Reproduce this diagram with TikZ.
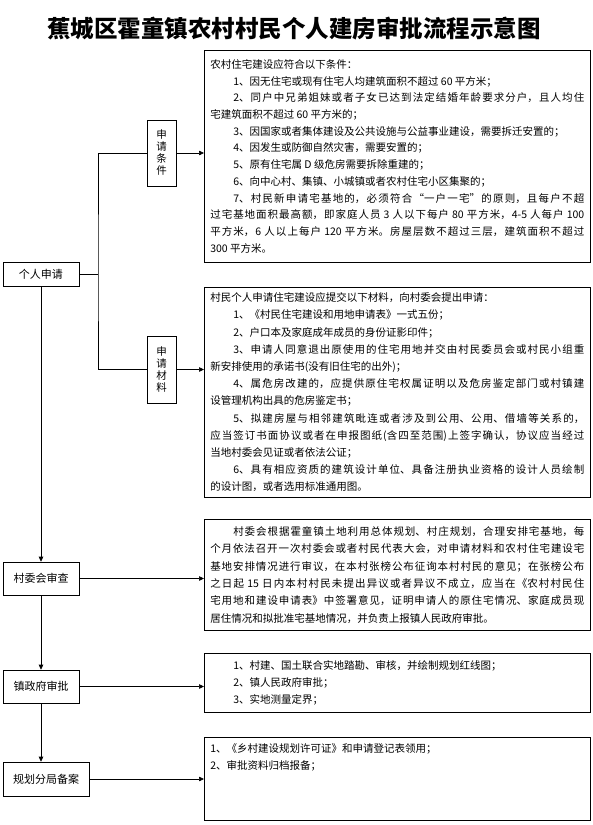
\documentclass[tikz,border=0pt]{standalone}
\usepackage{fontspec}
\setmainfont{Noto Sans CJK SC}
\XeTeXlinebreaklocale "zh"
\XeTeXlinebreakskip=0pt plus 1.5pt
\usetikzlibrary{arrows.meta}
\newcommand{\ind}{\hspace*{23pt}}

\begin{document}
\begin{tikzpicture}[x=1pt,y=-1pt]
        \tikzstyle{every node}+=[inner sep=0pt]
        \tikzstyle{stage}=[draw, line width=0.6pt, font=\fontsize{11}{13}\selectfont]
        \tikzstyle{tall}=[draw, line width=0.6pt, align=center, minimum width=29pt, minimum height=66pt, font=\fontsize{10.5}{12}\selectfont]
        \tikzstyle{detail}=[draw, line width=0.6pt, anchor=north west, text width=374pt, inner xsep=6pt, align=justify, font=\fontsize{10.5}{16.7}\selectfont]
        \tikzstyle{link}=[line width=0.6pt]
        \tikzstyle{flow}=[line width=0.6pt, -{Triangle[length=5pt,width=4.5pt]}]
        \useasboundingbox (0,0) rectangle (593,825);
        % title
        \node[font=\fontsize{23.5}{26}\selectfont\bfseries] (title) at (294,29) {蕉城区霍童镇农村村民个人建房审批流程示意图};
        % left column
        \node[stage, minimum width=76pt, minimum height=24pt] (apply) at (41,274) {个人申请};
        \node[tall] (req) at (161.5,153) {申\\请\\条\\件};
        \node[tall, minimum height=67pt] (mats) at (161.5,369.5) {申\\请\\材\\料};
        \node[stage, minimum width=76pt, minimum height=33pt] (review) at (41,578.5) {村委会审查};
        \node[stage, minimum width=76pt, minimum height=33pt] (town) at (41,686.5) {镇政府审批};
        \node[stage, minimum width=86pt, minimum height=34pt] (plan) at (46,779) {规划分局备案};
        \coordinate (fork) at (98,274);
        % right column
        \node[detail, minimum height=212pt] (condbox) at (204,50) {农村住宅建设应符合以下条件：\par
        \ind 1、因无住宅或现有住宅人均建筑面积不超过 60 平方米；\par
        \ind 2、同户中兄弟姐妹或者子女已达到法定结婚年龄要求分户，且人均住\linebreak 宅建筑面积不超过 60 平方米的；\par
        \ind 3、因国家或者集体建设及公共设施与公益事业建设，需要拆迁安置的；\par
        \ind 4、因发生或防御自然灾害，需要安置的；\par
        \ind 5、原有住宅属 D 级危房需要拆除重建的；\par
        \ind 6、向中心村、集镇、小城镇或者农村住宅小区集聚的；\par
        \ind 7、村民新申请宅基地的，必须符合“一户一宅”的原则，且每户不超\linebreak 过宅基地面积最高额，即家庭人员 3 人以下每户 80 平方米，4-5 人每户 100\linebreak 平方米，6 人以上每户 120 平方米。房屋层数不超过三层，建筑面积不超过\linebreak 300 平方米。};
        \node[detail, minimum height=210pt, font=\fontsize{10.5}{17.2}\selectfont] (matbox) at (204,287) {村民个人申请住宅建设应提交以下材料，向村委会提出申请：\par
        \ind 1、《村民住宅建设和用地申请表》一式五份；\par
        \ind 2、户口本及家庭成年成员的身份证影印件；\par
        \ind 3、申请人同意退出原使用的住宅用地并交由村民委员会或村民小组重\linebreak 新安排使用的承诺书(没有旧住宅的出外)；\par
        \ind 4、属危房改建的，应提供原住宅权属证明以及危房鉴定部门或村镇建\linebreak 设管理机构出具的危房鉴定书；\par
        \ind 5、拟建房屋与相邻建筑毗连或者涉及到公用、公用、借墙等关系的，\linebreak 应当签订书面协议或者在申报图纸(含四至范围)上签字确认，协议应当经过\linebreak 当地村委会见证或者依法公证；\par
        \ind 6、具有相应资质的建筑设计单位、具备注册执业资格的设计人员绘制\linebreak 的设计图，或者选用标准通用图。};
        \node[detail, minimum height=111pt, font=\fontsize{10.5}{17.4}\selectfont] (reviewbox) at (204,519) {\ind 村委会根据霍童镇土地利用总体规划、村庄规划，合理安排宅基地，每\linebreak 个月依法召开一次村委会或者村民代表大会，对申请材料和农村住宅建设宅\linebreak 基地安排情况进行审议，在本村张榜公布征询本村村民的意见；在张榜公布\linebreak 之日起 15 日内本村村民未提出异议或者异议不成立，应当在《农村村民住\linebreak 宅用地和建设申请表》中签署意见，证明申请人的原住宅情况、家庭成员现\linebreak 居住情况和拟批准宅基地情况，并负责上报镇人民政府审批。};
        \node[detail, minimum height=59pt, font=\fontsize{10.5}{17}\selectfont] (townbox) at (204,653) {\ind 1、村建、国土联合实地踏勘、审核，并绘制规划红线图；\par
        \ind 2、镇人民政府审批；\par
        \ind 3、实地测量定界；};
        \node[detail, minimum height=83pt, font=\fontsize{10.5}{17}\selectfont] (planbox) at (204,737) {\parbox[c][71pt][t]{\linewidth}{1、《乡村建设规划许可证》和申请登记表领用；\par
        2、审批资料归档报备；}};
        % connectors
        \draw[link] (apply) -- (fork);
        \draw[link] (req.west) -| (fork) |- (mats.west);
        \draw[flow] (req) -- (req -| condbox.west);
        \draw[flow] (mats) -- (mats -| matbox.west);
        \draw[flow] (apply) -- (review);
        \draw[flow] (review) -- (review -| reviewbox.west);
        \draw[flow] (review) -- (town);
        \draw[flow] (town) -- (town -| townbox.west);
        \draw[flow] (town.south) -- (town.south |- plan.north);
        \draw[flow] (plan) -- (plan -| planbox.west);
\end{tikzpicture}
\end{document}
